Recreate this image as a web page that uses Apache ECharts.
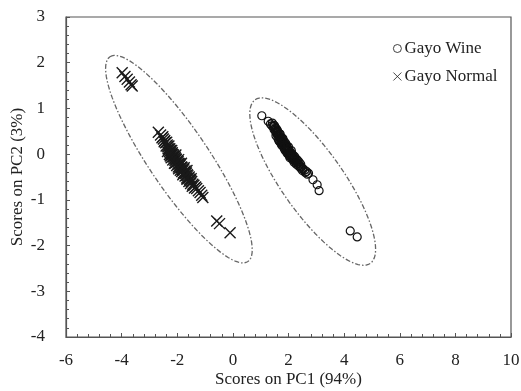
<!DOCTYPE html>
<html>
<head>
<meta charset="utf-8">
<script src="https://cdn.jsdelivr.net/npm/echarts@6/dist/echarts.min.js"></script>
<style>
html, body { margin: 0; padding: 0; background: #fff; }
#main { width: 521px; height: 391px; }
</style>
</head>
<body>
<div id="main"></div>
<script>
// Gayo Wine scores (PC1, PC2)
var wine_points = [
    [1.04, 0.84], [1.27, 0.72], [1.35, 0.66], [1.40, 0.62], [1.45, 0.60], [1.48, 0.54],
    [1.52, 0.52], [1.55, 0.47], [1.58, 0.50], [1.60, 0.43], [1.63, 0.40], [1.66, 0.38],
    [1.70, 0.34], [1.72, 0.30], [1.75, 0.32], [1.78, 0.26], [1.80, 0.22], [1.83, 0.24],
    [1.86, 0.18], [1.90, 0.14], [1.92, 0.16], [1.95, 0.10], [1.98, 0.06], [2.00, 0.08],
    [2.04, 0.02], [2.08, -0.02], [2.10, 0.00], [2.14, -0.06], [2.18, -0.10], [2.20, -0.08],
    [2.25, -0.14], [2.30, -0.18], [2.35, -0.20], [2.40, -0.25], [2.46, -0.28], [2.52, -0.32],
    [2.58, -0.35], [2.65, -0.38], [2.72, -0.42],
    [1.50, 0.62], [1.60, 0.52], [1.70, 0.44], [1.80, 0.34], [1.90, 0.24], [2.00, 0.16],
    [2.10, 0.08], [1.65, 0.30], [1.75, 0.20], [1.85, 0.12], [1.95, 0.02], [2.05, -0.08],
    [2.20, -0.18],
    [1.42, 0.68], [1.47, 0.63], [1.53, 0.58], [1.57, 0.55], [1.62, 0.48], [1.67, 0.45],
    [1.71, 0.39], [1.76, 0.36], [1.81, 0.30], [1.85, 0.27], [1.89, 0.20], [1.94, 0.18],
    [1.97, 0.12], [2.02, 0.10], [2.06, 0.04], [2.12, 0.02], [2.16, -0.03], [2.22, -0.05],
    [2.27, -0.10], [2.32, -0.13], [2.38, -0.17], [2.44, -0.22], [1.55, 0.40], [1.62, 0.34],
    [1.68, 0.27], [1.73, 0.24], [1.79, 0.18], [1.84, 0.16], [1.88, 0.08], [1.93, 0.06],
    [1.99, 0.00], [2.03, -0.04], [2.09, -0.06], [2.15, -0.12], [2.23, -0.16], [2.28, -0.22],
    [2.36, -0.26], [2.44, -0.31], [2.50, -0.36], [2.60, -0.40], [2.68, -0.44],
    [2.88, -0.56], [3.03, -0.67], [3.10, -0.80], [4.22, -1.68], [4.47, -1.81]
];
// Gayo Normal scores (PC1, PC2)
var normal_points = [
    [-3.98, 1.78], [-3.88, 1.70], [-3.80, 1.64], [-3.72, 1.58], [-3.66, 1.52], [-3.62, 1.49],
    [-2.68, 0.48], [-2.60, 0.42], [-2.55, 0.36], [-2.50, 0.33], [-2.47, 0.27], [-2.42, 0.25],
    [-2.40, 0.18], [-2.36, 0.20], [-2.33, 0.12], [-2.30, 0.10], [-2.28, 0.05], [-2.25, 0.08],
    [-2.22, 0.00], [-2.20, -0.02], [-2.18, 0.03], [-2.15, -0.06], [-2.12, -0.05], [-2.10, -0.10],
    [-2.08, -0.14], [-2.05, -0.10], [-2.02, -0.18], [-2.00, -0.15], [-1.98, -0.22], [-1.95, -0.20],
    [-1.92, -0.26], [-1.90, -0.24], [-1.87, -0.30], [-1.85, -0.28], [-1.82, -0.34], [-1.80, -0.36],
    [-1.77, -0.33], [-1.74, -0.40], [-1.70, -0.42], [-1.68, -0.47], [-1.64, -0.45], [-1.60, -0.52],
    [-1.56, -0.55], [-1.52, -0.58], [-1.48, -0.60], [-1.44, -0.66], [-1.40, -0.68], [-1.34, -0.72],
    [-1.30, -0.75], [-1.24, -0.80], [-1.18, -0.84], [-1.12, -0.90], [-1.08, -0.95],
    [-2.30, 0.18], [-2.20, 0.08], [-2.05, -0.02], [-1.95, -0.12], [-1.85, -0.20], [-1.75, -0.30],
    [-1.65, -0.36], [-2.25, -0.04], [-2.10, -0.20], [-1.95, -0.32], [-1.80, -0.45], [-1.65, -0.55],
    [-2.52, 0.38], [-2.45, 0.30], [-2.38, 0.26], [-2.34, 0.16], [-2.27, 0.12], [-2.24, 0.03],
    [-2.17, 0.00], [-2.13, -0.02], [-2.07, -0.07], [-2.03, -0.12], [-1.97, -0.16], [-1.93, -0.21],
    [-1.88, -0.22], [-1.83, -0.29], [-1.78, -0.32], [-1.72, -0.37], [-1.67, -0.41], [-1.62, -0.47],
    [-1.57, -0.50], [-1.50, -0.54], [-2.35, 0.06], [-2.28, -0.01], [-2.22, -0.08], [-2.16, -0.13],
    [-2.08, -0.20], [-2.02, -0.25], [-1.96, -0.28], [-1.89, -0.35], [-1.84, -0.38], [-1.78, -0.41],
    [-1.72, -0.48], [-1.66, -0.52], [-1.58, -0.60], [-1.52, -0.64], [-1.46, -0.70], [-1.38, -0.74],
    [-0.58, -1.46], [-0.48, -1.52], [-0.10, -1.72]
];
// confidence ellipses: centre, end of major axis, minor/major ratio
var ellipse_centers = [[-1.94, -0.11], [2.87, -0.60]];
var ellipse_tips = [[-4.42, 2.13], [0.80, 1.19]];
var ellipse_ratio = [0.243, 0.31];

var x_ticks = { min: -6, max: 10, interval: 2 };
var y_ticks = { min: -4, max: 3, interval: 1 };

var ellipse_data = [];
for (var i = 0; i < ellipse_centers.length; i++) {
    ellipse_data.push([ellipse_centers[i][0], ellipse_centers[i][1], ellipse_tips[i][0], ellipse_tips[i][1], ellipse_ratio[i]]);
}

var font = '"Liberation Serif", "DejaVu Serif", serif';
var chart = echarts.init(document.getElementById('main'));
var option = {
    animation: false,
    backgroundColor: '#fff',
    textStyle: { fontFamily: font, color: '#222' },
    grid: {
        left: 66, right: 10, top: 17, bottom: 54,
        containLabel: false,
        outerBoundsMode: 'none',
        show: true, borderColor: '#555', borderWidth: 1.2, backgroundColor: 'transparent'
    },
    legend: {
        orient: 'vertical',
        left: 388,
        top: 35,
        itemWidth: 8,
        itemHeight: 8,
        itemGap: 11,
        textStyle: { fontFamily: font, fontSize: 17, color: '#222', padding: [0, 0, 0, -2] },
        data: [
            { name: 'Gayo Wine', icon: 'circle', itemStyle: { color: 'transparent', borderWidth: 0.8 } },
            { name: 'Gayo Normal', icon: 'path://M0,0L10,10M10,0L0,10', itemStyle: { borderWidth: 0.8 } }
        ]
    },
    xAxis: {
        type: 'value',
        min: x_ticks.min, max: x_ticks.max, interval: x_ticks.interval,
        name: 'Scores on PC1 (94%)',
        nameLocation: 'middle',
        nameGap: 34,
        nameMoveOverlap: false,
        nameTextStyle: { fontFamily: font, fontSize: 17, color: '#222' },
        axisLine: { show: true, onZero: false, lineStyle: { color: '#555', width: 1.2 } },
        axisTick: { show: true, inside: true, length: 4, lineStyle: { color: '#555' } },
        minorTick: { show: true, splitNumber: 5, length: 3, lineStyle: { color: '#555' } },
        axisLabel: { fontFamily: font, fontSize: 17, color: '#222', margin: 15 },
        splitLine: { show: false }
    },
    yAxis: {
        type: 'value',
        min: y_ticks.min, max: y_ticks.max, interval: y_ticks.interval,
        name: 'Scores on PC2 (3%)',
        nameLocation: 'middle',
        nameGap: 40,
        nameMoveOverlap: false,
        nameTextStyle: { fontFamily: font, fontSize: 17, color: '#222' },
        axisLine: { show: true, onZero: false, lineStyle: { color: '#555', width: 1.2 } },
        axisTick: { show: true, inside: true, length: 4, lineStyle: { color: '#555' } },
        minorTick: { show: true, splitNumber: 5, length: 3, lineStyle: { color: '#555' } },
        axisLabel: { fontFamily: font, fontSize: 17, color: '#222', margin: 21 },
        splitLine: { show: false }
    },
    series: [
        {
            type: 'custom',
            name: 'ellipse',
            silent: true,
            data: ellipse_data,
            encode: { x: [0, 2], y: [1, 3] },
            renderItem: function (params, api) {
                var c = api.coord([api.value(0), api.value(1)]);
                var t = api.coord([api.value(2), api.value(3)]);
                var r = api.value(4);
                var ax = t[0] - c[0], ay = t[1] - c[1];
                var bx = -ay * r, by = ax * r;
                var pts = [];
                for (var k = 0; k <= 90; k++) {
                    var a = k / 90 * 2 * Math.PI;
                    pts.push([c[0] + Math.cos(a) * ax + Math.sin(a) * bx,
                              c[1] + Math.cos(a) * ay + Math.sin(a) * by]);
                }
                return {
                    type: 'polyline',
                    shape: { points: pts },
                    style: { fill: null, stroke: '#666', lineWidth: 1.3, lineDash: [5, 2, 1.5, 2] }
                };
            }
        },
        {
            name: 'Gayo Wine',
            type: 'scatter',
            symbol: 'circle',
            symbolSize: 8,
            itemStyle: { color: 'transparent', borderColor: '#111', borderWidth: 1.2, opacity: 1 },
            emphasis: { disabled: true },
            data: wine_points
        },
        {
            name: 'Gayo Normal',
            type: 'scatter',
            symbol: 'path://M0,0L10,10M10,0L0,10',
            symbolSize: 11,
            itemStyle: { color: '#1a1a1a', borderColor: '#1a1a1a', borderWidth: 1.4, opacity: 1 },
            emphasis: { disabled: true },
            data: normal_points
        }
    ]
};
chart.setOption(option);
</script>
</body>
</html>
